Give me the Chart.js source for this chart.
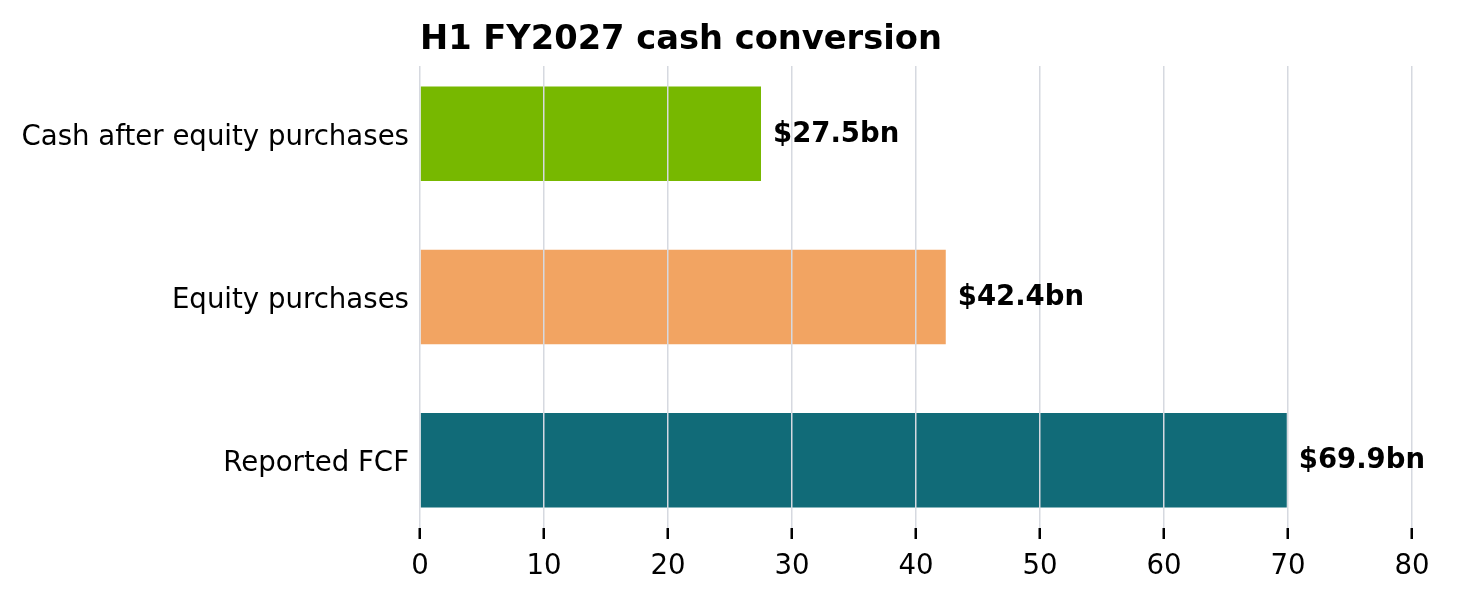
<!DOCTYPE html>
<html>
<head>
<meta charset="utf-8">
<script src="https://cdn.jsdelivr.net/npm/chart.js@4"></script>
<style>
  body { margin: 0; background: #fff; }
  canvas { display: block; }
</style>
</head>
<body>
<canvas id="cashChart" width="1458" height="600"></canvas>
<script>
// datos, de abajo hacia arriba
const categories = ['Reported FCF', 'Equity purchases', 'Cash after equity purchases'];
const values = [69.9, 42.4, 27.5];
const valueLabels = ['$69.9bn', '$42.4bn', '$27.5bn'];
const barColors = ['#116b78', '#f2a462', '#77b800'];
const xTicks = [0, 10, 20, 30, 40, 50, 60, 70, 80];

const FONT = "'DejaVu Sans', sans-serif";

// etiquetas de valor al final de cada barra
const valueLabelPlugin = {
    id: 'valueLabels',
    afterDraw(chart) {
        const c = chart.ctx;
        const meta = chart.getDatasetMeta(0);
        c.save();
        c.font = 'bold 27.5px ' + FONT;
        c.fillStyle = '#000';
        c.textAlign = 'left';
        c.textBaseline = 'middle';
        meta.data.forEach((bar, i) => {
            c.fillText(valueLabels[i], bar.x + 12, bar.y + 1);
        });
        c.restore();
    }
};

new Chart(document.getElementById('cashChart'), {
    type: 'bar',
    data: {
        datasets: [{
            data: values.map((v, i) => ({ x: v, y: i })),
            backgroundColor: barColors,
            borderWidth: 0,
            categoryPercentage: 1,
            barPercentage: 0.58
        }]
    },
    options: {
        indexAxis: 'y',
        responsive: false,
        devicePixelRatio: 1,
        animation: false,
        layout: { padding: { left: 0, right: 46, top: 0, bottom: 0 } },
        plugins: {
            legend: { display: false },
            tooltip: { enabled: false },
            title: {
                display: true,
                text: 'H1 FY2027 cash conversion',
                align: 'start',
                fullSize: false,
                color: '#000',
                font: { family: FONT, size: 33.7, weight: 'bold' },
                padding: { top: 20, bottom: 5.6 }
            }
        },
        scales: {
            x: {
                type: 'linear',
                min: 0,
                max: 80,
                afterBuildTicks: (s) => { s.ticks = xTicks.map(v => ({ value: v })); },
                afterFit: (s) => { s.height = 72; },
                border: { display: false },
                grid: {
                    z: 1,
                    color: '#d6d9e0',
                    lineWidth: 1.5,
                    drawTicks: true,
                    tickLength: 11,
                    tickColor: '#000',
                    tickWidth: 2.5
                },
                ticks: {
                    color: '#000',
                    padding: 11,
                    font: { family: FONT, size: 27.6 }
                }
            },
            y: {
                type: 'linear',
                min: -0.415,
                max: 2.415,
                offset: false,
                afterBuildTicks: (s) => { s.ticks = categories.map((c, i) => ({ value: i })); },
                afterFit: (s) => { s.width = 420; },
                border: { display: false },
                grid: { display: false, drawTicks: false, offset: false },
                ticks: {
                    color: '#000',
                    padding: 11,
                    labelOffset: 4,
                    autoSkip: false,
                    font: { family: FONT, size: 27.6 },
                    callback: (v) => categories[v]
                }
            }
        }
    },
    plugins: [valueLabelPlugin]
});
</script>
</body>
</html>
